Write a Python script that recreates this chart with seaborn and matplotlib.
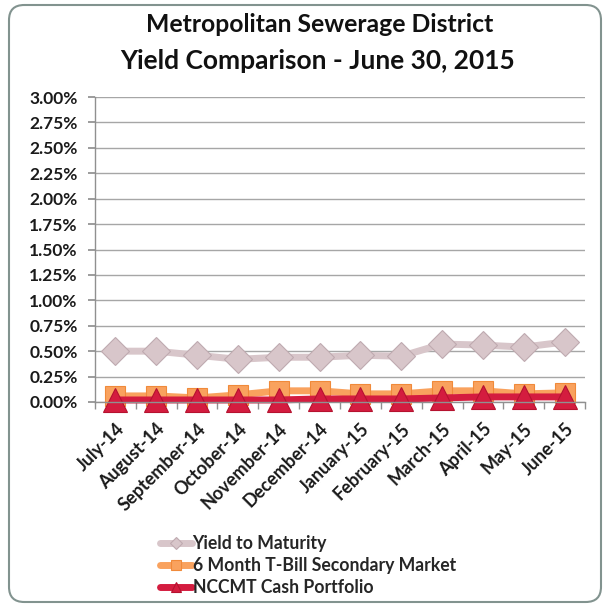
import matplotlib
matplotlib.use("Agg")
import matplotlib.pyplot as plt
import matplotlib.ticker as mticker
from matplotlib.patches import FancyBboxPatch
import pandas as pd
import seaborn as sns

# Monthly yields (percent).
months = [
    "July-14", "August-14", "September-14", "October-14", "November-14",
    "December-14", "January-15", "February-15", "March-15", "April-15",
    "May-15", "June-15",
]
yield_to_maturity = [0.50, 0.50, 0.46, 0.42, 0.44, 0.44, 0.46, 0.45, 0.57, 0.56, 0.54, 0.59]
tbill_6m = [0.06, 0.06, 0.04, 0.07, 0.11, 0.11, 0.08, 0.08, 0.11, 0.11, 0.08, 0.09]
nccmt_cash = [0.02, 0.02, 0.02, 0.02, 0.02, 0.03, 0.03, 0.03, 0.04, 0.05, 0.05, 0.05]

series = [
    ("Yield to Maturity", yield_to_maturity, "#d8c6ca", "#bfaab0", "D", 14),
    ("6 Month T-Bill Secondary Market", tbill_6m, "#f9a25e", "#f08a3a", "s", 15),
    ("NCCMT Cash Portfolio", nccmt_cash, "#d41c3f", "#b5122f", "^", 17),
]

sns.set_theme(style="white")
plt.rcParams["font.family"] = ["Lato", "DejaVu Sans"]

fig = plt.figure(figsize=(6.09, 6.06), dpi=100)
ax = fig.add_axes([95 / 609, 1 - 402 / 606, 490 / 609, 305 / 606])

for name, vals, color, edge, marker, msize in series:
    df = pd.DataFrame({"idx": range(len(months)), "value": vals})
    sns.lineplot(
        data=df, x="idx", y="value", ax=ax, label=name,
        color=color, linewidth=5, marker=marker, markersize=msize,
        markeredgecolor=edge, markeredgewidth=0.8, clip_on=False,
    )

ax.set_xlim(-0.5, len(months) - 0.5)
ax.set_ylim(0, 3.0)
ax.yaxis.set_major_locator(mticker.MultipleLocator(0.25))
ax.yaxis.set_major_formatter(mticker.FuncFormatter(lambda v, _: f"{v:.2f}%"))
ax.yaxis.grid(True, color="#a6a6a6", linewidth=1)
ax.set_axisbelow(True)

ax.set_xticks(range(len(months)))
ax.set_xticklabels(months, rotation=45, ha="right", rotation_mode="anchor",
                   fontsize=13, fontweight="bold", color="#1a1a1a")
ax.xaxis.set_minor_locator(mticker.FixedLocator([i - 0.5 for i in range(len(months) + 1)]))
ax.tick_params(axis="x", which="major", length=0, pad=13)
ax.tick_params(axis="x", which="minor", length=5, color="#909090", direction="out", bottom=True)
ax.tick_params(axis="y", length=5, color="#909090", direction="out", left=True, pad=7.5,
               labelsize=12.5, labelcolor="#1a1a1a")
for lbl in ax.get_yticklabels():
    lbl.set_fontweight("bold")

for side in ["top", "right"]:
    ax.spines[side].set_visible(False)
for side in ["left", "bottom"]:
    ax.spines[side].set_color("#909090")
    ax.spines[side].set_linewidth(1)
ax.set_xlabel("")
ax.set_ylabel("")

handles, labels = ax.get_legend_handles_labels()
ax.get_legend().remove()
fig.legend(
    handles, labels, loc="upper left", bbox_to_anchor=(144 / 609, 1 - 519 / 606),
    frameon=False, markerscale=0.45, handlelength=1.8, handletextpad=0.05,
    labelspacing=0.3, prop={"weight": "bold", "size": 12.7},
)

fig.text(0.525, 1 - 24 / 606, "Metropolitan Sewerage District", ha="center", va="center",
         fontsize=17.8, fontweight="bold", color="#111111")
fig.text(0.522, 1 - 61 / 606, "Yield Comparison - June 30, 2015", ha="center", va="center",
         fontsize=19, fontweight="bold", color="#111111")

border = FancyBboxPatch(
    (9 / 609, 4 / 606), 592 / 609, 597 / 606,
    boxstyle="round,pad=0,rounding_size=0.025", transform=fig.transFigure,
    facecolor="none", edgecolor="#82938f", linewidth=1.5,
)
fig.patches.append(border)

fig.savefig("out.png", dpi=100)
